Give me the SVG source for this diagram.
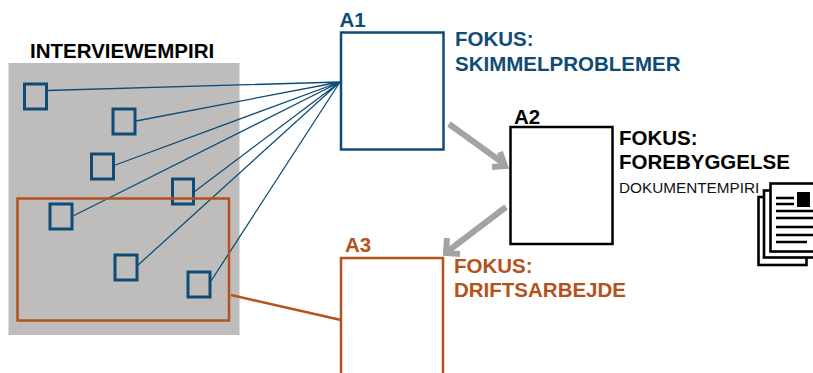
<svg xmlns="http://www.w3.org/2000/svg" width="813" height="373" viewBox="0 0 813 373">
<style>
text{font-family:"Liberation Sans",Arial,sans-serif;font-weight:700;font-size:20.5px}
.blue{fill:#0f4c75}.or{fill:#b5521b}.bk{fill:#000}
.sq{fill:none;stroke:#0f4c75;stroke-width:3}
.big{fill:#fff;stroke-width:2.5}
.ln{stroke:#0f4c75;stroke-width:1.3;fill:none}
.ar{stroke:#a3a3a3;stroke-width:6;fill:none}
.pg{fill:#fff;stroke:#000;stroke-width:2.6}
.d{stroke:#000;stroke-width:2.6}
</style>
<rect x="8.500" y="63" width="231" height="272" fill="#bfbdbc"/>
<text x="30" y="58" class="bk">INTERVIEWEMPIRI</text>
<g id="connectors">
<path class="ln" d="M47 90.500L340 82M136 121L340 82M114 165.500L340 82M73 216L340 82M194 192L340 82M137 266L340 82M211 281L340 82"/>
<path d="M231 295L341 320" stroke="#b5521b" stroke-width="2.500" fill="none"/>
<path class="ar" d="M449 124L503 163M492 167L505 166L500 152"/>
<path class="ar" d="M506 207L448 251M447 238L446 253L460 254"/>
</g>
<g id="s1"><rect class="sq" x="24.500" y="84" width="22" height="25"/></g>
<g id="s2"><rect class="sq" x="113" y="109" width="22" height="25"/></g>
<g id="s3"><rect class="sq" x="91.500" y="154" width="22" height="25"/></g>
<g id="s4"><rect class="sq" x="172.500" y="179" width="21" height="25"/></g>
<g id="s5"><rect class="sq" x="50" y="204" width="22" height="25"/></g>
<g id="s6"><rect class="sq" x="115" y="255" width="22" height="25"/></g>
<g id="s7"><rect class="sq" x="188" y="272" width="22" height="25"/></g>
<g id="frame"><rect x="17.500" y="198.500" width="211.500" height="122" fill="none" stroke="#b5521b" stroke-width="2.500"/></g>
<g id="A1"><rect class="big" x="341" y="32.500" width="102.500" height="117" stroke="#0f4c75"/>
<text x="339.500" y="27" class="blue">A1</text>
<text x="455" y="46" class="blue">FOKUS:</text><text x="455" y="71" class="blue">SKIMMELPROBLEMER</text></g>
<g id="A2"><rect class="big" x="510.500" y="127" width="102" height="117" stroke="#000" stroke-width="3"/>
<text x="514" y="124" class="bk">A2</text>
<text x="619" y="145" class="bk">FOKUS:</text><text x="619" y="169" class="bk">FOREBYGGELSE</text>
<text x="619" y="193" style="font-weight:400;font-size:15.300px" fill="#111">DOKUMENTEMPIRI</text></g>
<g id="A3"><rect class="big" x="341" y="258" width="102" height="130" stroke="#b5521b"/>
<text x="345" y="252" class="or">A3</text>
<text x="454" y="273" class="or">FOKUS:</text><text x="454" y="297" class="or">DRIFTSARBEJDE</text></g>
<g id="doc">
<rect class="pg" x="758.500" y="197" width="48" height="68"/>
<rect class="pg" x="764" y="190.500" width="52" height="67"/>
<rect class="pg" x="770.500" y="183.500" width="48" height="68"/>
<rect x="797" y="192" width="13" height="15" fill="#000"/>
<path class="d" d="M776 198H794M776 204H794M776 211H813M776 218H813M776 227H813M776 235H813M776 242H807"/>
</g>
</svg>
